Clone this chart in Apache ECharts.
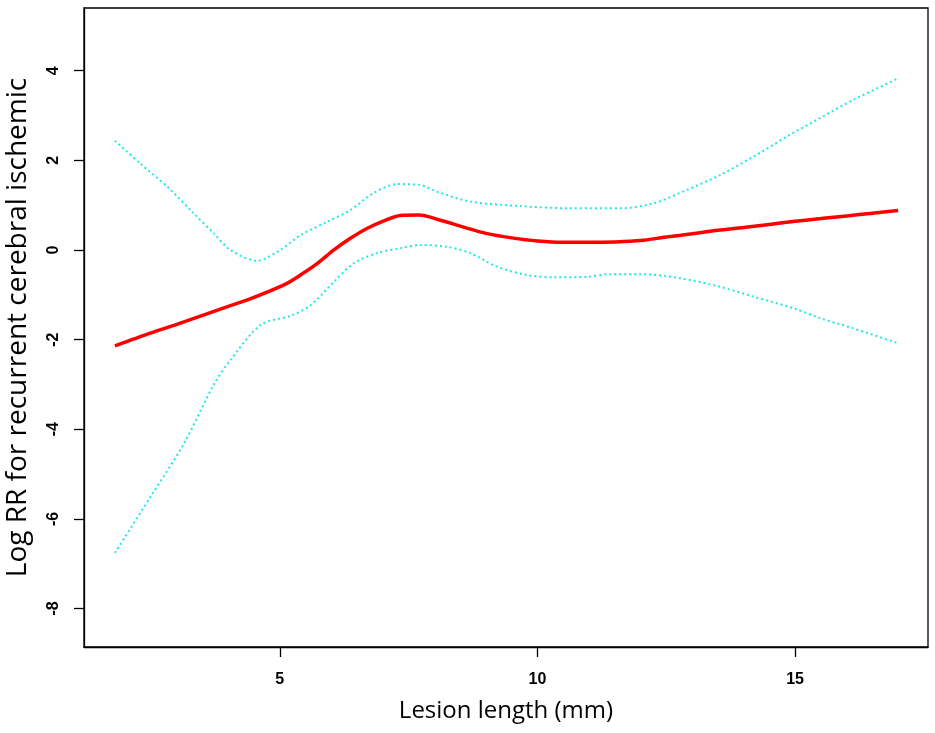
<!DOCTYPE html>
<html>
<head>
<meta charset="utf-8">
<script src="https://cdn.jsdelivr.net/npm/echarts@6/dist/echarts.min.js"></script>
<style>html,body{margin:0;padding:0;background:#fff;}#c{width:935px;height:733px;}</style>
</head>
<body>
<div id="c"></div>
<script>
// Fitted curve (Lesion length mm -> Log RR)
const fitX = [1.8, 2.5, 3.0, 3.5, 4.0, 4.45, 5.08, 5.4, 5.73, 6.05, 6.37, 6.69, 7.02, 7.34, 7.7, 8.1, 8.6, 9.0, 9.5, 10.0, 10.5, 11.0, 11.5, 12.0, 12.5, 13.0, 13.5, 14.0, 14.5, 15.0, 15.5, 16.0, 16.5, 17.0];
const fitY = [-2.14, -1.85, -1.66, -1.46, -1.26, -1.08, -0.78, -0.56, -0.30, 0.0, 0.26, 0.48, 0.65, 0.77, 0.78, 0.67, 0.50, 0.37, 0.27, 0.20, 0.17, 0.17, 0.18, 0.21, 0.29, 0.36, 0.44, 0.50, 0.57, 0.64, 0.70, 0.76, 0.82, 0.88];
// Upper 95% CI
const upX = [1.8, 2.3, 2.82, 3.3, 3.72, 4.04, 4.56, 5.01, 5.4, 5.92, 6.37, 6.82, 7.28, 7.73, 8.05, 8.7, 9.67, 10.64, 11.6, 12.25, 12.9, 13.54, 14.19, 14.84, 15.48, 16.13, 17.0];
const upY = [2.44, 1.92, 1.41, 0.85, 0.37, 0.0, -0.24, 0.0, 0.33, 0.63, 0.89, 1.27, 1.47, 1.45, 1.30, 1.08, 0.98, 0.93, 0.93, 1.04, 1.34, 1.67, 2.08, 2.53, 2.94, 3.35, 3.83];
// Lower 95% CI
const loX = [1.8, 2.49, 3.14, 3.72, 4.04, 4.63, 5.21, 5.6, 6.05, 6.43, 6.89, 7.34, 7.73, 8.25, 8.7, 9.21, 9.8, 10.31, 10.96, 11.41, 12.0, 12.77, 13.54, 14.19, 14.97, 15.48, 16.13, 17.0];
const loY = [-6.76, -5.51, -4.32, -3.0, -2.46, -1.67, -1.47, -1.23, -0.71, -0.30, -0.07, 0.04, 0.11, 0.07, -0.07, -0.37, -0.56, -0.61, -0.60, -0.54, -0.54, -0.63, -0.82, -1.04, -1.30, -1.52, -1.75, -2.08];
const xTicks = [5, 10, 15];
const yTicks = [-8, -6, -4, -2, 0, 2, 4];

const zip = (a, b) => a.map((v, i) => [v, b[i]]);
const chart = echarts.init(document.getElementById('c'), null, {renderer: 'canvas'});
const tickLabel = {fontFamily: 'Liberation Sans, Arial, sans-serif', fontSize: 16, fontWeight: 'bold', color: '#000'};
chart.setOption({
  animation: false,
  backgroundColor: '#fff',
  grid: {left: 84, right: 7, top: 8, bottom: 86, containLabel: false, outerBoundsMode: 'none',
         show: true, borderColor: '#000', borderWidth: 1.3, backgroundColor: 'transparent'},
  xAxis: {
    type: 'value', min: 1.2, max: 17.58,
    name: 'Lesion length (mm)', nameLocation: 'middle', nameGap: 52,
    nameTextStyle: {fontFamily: 'Open Sans, sans-serif', fontSize: 24, color: '#000'},
    axisLine: {show: true, onZero: false, lineStyle: {color: '#000', width: 1.3}},
    axisTick: {show: true, length: 10, customValues: xTicks, lineStyle: {color: '#000', width: 1.3}},
    axisLabel: Object.assign({customValues: xTicks, margin: 25}, tickLabel),
    splitLine: {show: false}
  },
  yAxis: {
    type: 'value', min: -8.86, max: 5.40,
    name: 'Log RR for recurrent cerebral ischemic', nameLocation: 'middle', nameGap: 52,
    nameTextStyle: {fontFamily: 'Open Sans, sans-serif', fontSize: 28, color: '#000'},
    axisLine: {show: true, onZero: false, lineStyle: {color: '#000', width: 1.3}},
    axisTick: {show: true, length: 10, customValues: yTicks, lineStyle: {color: '#000', width: 1.3}},
    axisLabel: Object.assign({customValues: yTicks, rotate: 90, margin: 30, align: 'center', verticalAlign: 'middle'}, tickLabel),
    splitLine: {show: false}
  },
  series: [
    {type: 'line', name: 'upper', data: zip(upX, upY), smooth: 0.3, showSymbol: false,
     lineStyle: {color: '#1ee8e8', width: 2, type: [2, 3]}},
    {type: 'line', name: 'lower', data: zip(loX, loY), smooth: 0.3, showSymbol: false,
     lineStyle: {color: '#1ee8e8', width: 2, type: [2, 3]}},
    {type: 'line', name: 'fit', data: zip(fitX, fitY), smooth: 0.3, showSymbol: false,
     lineStyle: {color: '#ff0000', width: 3.5}}
  ]
});
</script>
</body>
</html>
